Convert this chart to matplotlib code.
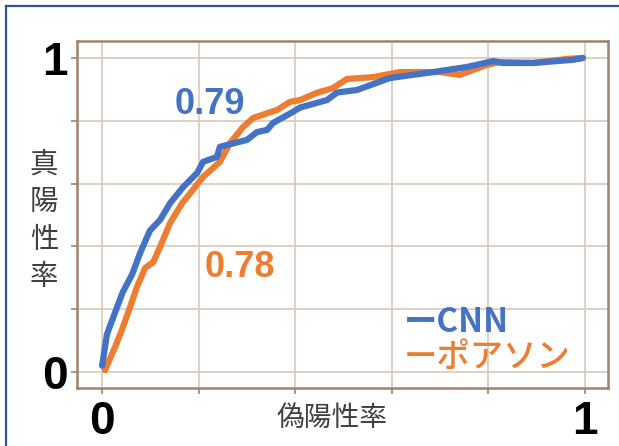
import matplotlib
matplotlib.use("Agg")
import matplotlib.pyplot as plt
from matplotlib.lines import Line2D

# ROC curve points
fpr_cnn = [0.0, 0.01, 0.027, 0.043, 0.062, 0.079, 0.099, 0.12, 0.141, 0.168,
           0.197, 0.209, 0.238, 0.244, 0.259, 0.3, 0.321, 0.342, 0.354, 0.395,
           0.41, 0.466, 0.487, 0.528, 0.596, 0.685, 0.755, 0.81, 0.83, 0.892,
           0.975, 0.996]
tpr_cnn = [0.02, 0.12, 0.19, 0.255, 0.31, 0.38, 0.45, 0.484, 0.538, 0.589,
           0.634, 0.669, 0.685, 0.717, 0.723, 0.739, 0.764, 0.771, 0.793, 0.828,
           0.842, 0.866, 0.89, 0.898, 0.936, 0.955, 0.971, 0.99, 0.984, 0.984,
           0.994, 1.0]

fpr_poisson = [0.006, 0.027, 0.041, 0.058, 0.072, 0.089, 0.106, 0.12, 0.141,
               0.166, 0.188, 0.209, 0.244, 0.265, 0.292, 0.313, 0.362, 0.389,
               0.41, 0.445, 0.478, 0.507, 0.561, 0.617, 0.7, 0.741, 0.797,
               0.824, 0.892, 0.963, 0.996]
tpr_poisson = [0.006, 0.08, 0.134, 0.207, 0.27, 0.331, 0.35, 0.398, 0.475,
               0.538, 0.58, 0.621, 0.669, 0.729, 0.78, 0.809, 0.834, 0.86,
               0.866, 0.889, 0.904, 0.933, 0.939, 0.955, 0.955, 0.946, 0.978,
               0.987, 0.984, 0.997, 1.0]

auc_cnn = "0.79"
auc_poisson = "0.78"
ticks = [0, 0.2, 0.4, 0.6, 0.8, 1.0]
tick_labels = ["0", "", "", "", "", "1"]

blue = "#4472C4"
orange = "#ED7D31"
brown = "#A3826B"
gridc = "#D9C8BB"
jp = ["Noto Sans CJK JP", "DejaVu Sans"]
num = ["Liberation Sans", "DejaVu Sans"]

fig = plt.figure(figsize=(6.19, 4.46), dpi=100)
fig.patch.set_facecolor("white")

# slide frame (only top and left edges visible)
fig.add_artist(Line2D([6 / 619, 6 / 619], [0, 1 - 6 / 446], color="#2F5597",
                      lw=1.6, transform=fig.transFigure))
fig.add_artist(Line2D([6 / 619, 1], [1 - 6 / 446, 1 - 6 / 446], color="#2F5597",
                      lw=1.6, transform=fig.transFigure))

ax = fig.add_axes([77 / 619, 1 - 388 / 446, 531 / 619, 347 / 446])
ax.set_xlim(-0.052, 1.048)
ax.set_ylim(-0.051, 1.054)

ax.plot(fpr_poisson, tpr_poisson, color=orange, lw=4.5, solid_joinstyle="round",
        solid_capstyle="round", zorder=3)
ax.plot(fpr_cnn, tpr_cnn, color=blue, lw=4.5, solid_joinstyle="round",
        solid_capstyle="round", zorder=4)

ax.set_xticks(ticks)
ax.set_yticks(ticks)
ax.set_xticklabels(tick_labels, fontsize=33, fontweight="bold", family=num)
ax.set_yticklabels(tick_labels, fontsize=33, fontweight="bold", family=num)
ax.tick_params(axis="x", length=4.5, width=1.2, color=brown, pad=4)
ax.tick_params(axis="y", length=4.5, width=1.2, color=brown, pad=2)
ax.grid(True, color=gridc, lw=1.2)
ax.set_axisbelow(True)
for s in ax.spines.values():
    s.set_color(brown)
    s.set_linewidth(1.8)

ax.text(0.224, 0.853, auc_cnn, color=blue, fontsize=26, fontweight="bold",
        family=num, ha="center", va="center")
ax.text(0.286, 0.334, auc_poisson, color=orange, fontsize=26, fontweight="bold",
        family=num, ha="center", va="center")

# legend written as coloured text
ax.text(0.625, 0.156, "ーCNN", color=blue, fontsize=24, fontweight="bold",
        family=jp, ha="left", va="center")
ax.text(0.625, 0.045, "ーポアソン", color=orange, fontsize=24, fontweight="medium",
        family=jp, ha="left", va="center")

fig.text(332 / 619, 1 - 418 / 446, "偽陽性率", color="#404040", fontsize=20,
         family=jp, ha="center", va="center")
fig.text(44 / 619, 1 - 221 / 446, "真\n陽\n性\n率", color="#404040", fontsize=20.5,
         family=jp, ha="center", va="center", linespacing=1.33)

plt.savefig("out.png", dpi=100)
